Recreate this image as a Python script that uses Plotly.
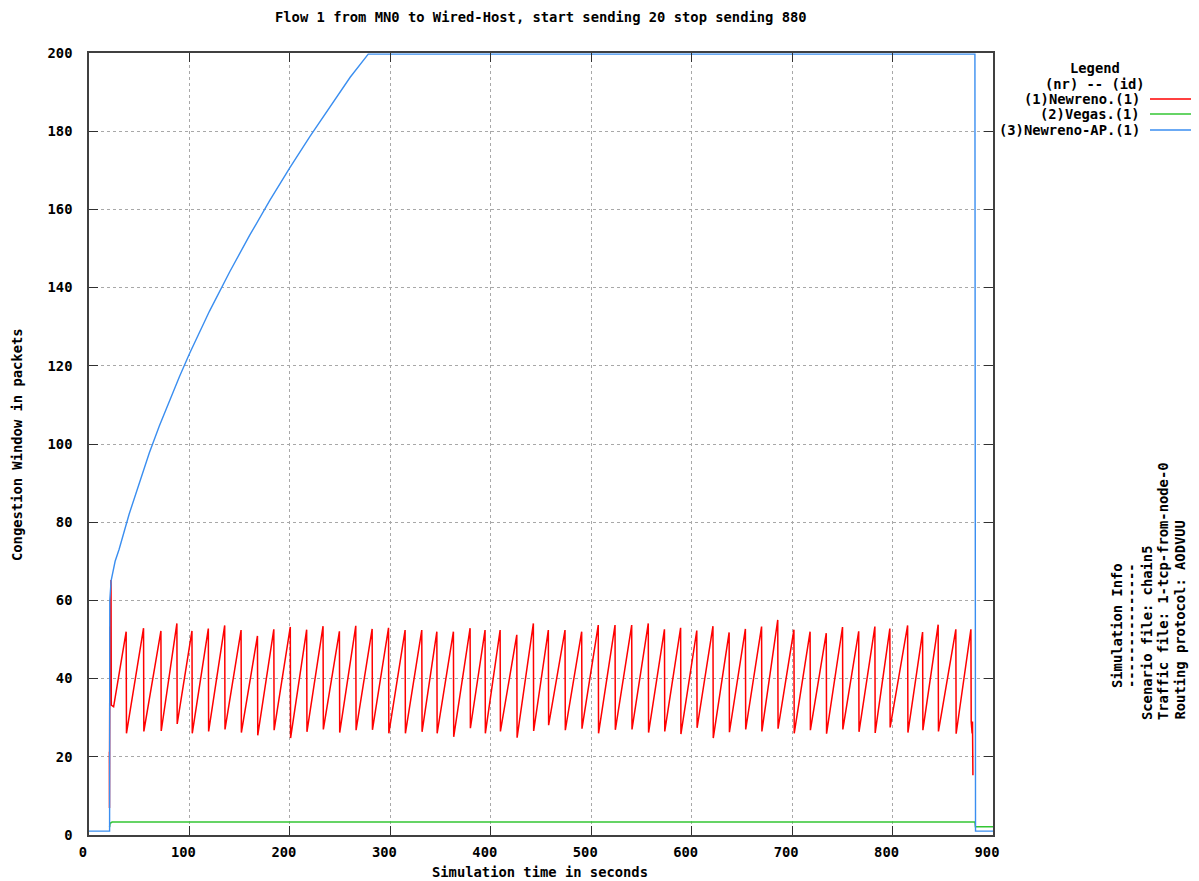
import plotly.graph_objects as go

# ---------------- data ----------------
title_text = "Flow 1 from MN0 to Wired-Host, start sending 20 stop sending 880"
x_ticks = [0, 100, 200, 300, 400, 500, 600, 700, 800, 900]
y_ticks = [0, 20, 40, 60, 80, 100, 120, 140, 160, 180, 200]

# (1) Newreno - red sawtooth
red_start_t = [20.3, 20.4, 20.8, 21.0, 21.9, 22.2, 24.5]
red_start_v = [21.3, 6.9, 53.3, 38.4, 65.2, 33.2, 32.8]
peak_t = [37.0, 54.3, 71.6, 87.5, 102.5, 118.8, 135.1, 151.4, 167.7, 184.0,
          200.4, 216.7, 233.0, 249.3, 265.6, 281.9, 298.2, 314.7, 331.3, 346.3,
          362.8, 379.4, 394.3, 409.3, 425.9, 442.4, 457.3, 473.9, 490.5, 507.0,
          523.7, 540.3, 556.8, 572.9, 589.0, 605.1, 621.2, 637.3, 653.5, 669.6,
          685.7, 701.8, 717.9, 734.0, 750.2, 766.3, 782.4, 797.3, 815.0, 829.9,
          845.4, 863.0, 878.0]
peak_v = [52.0, 52.9, 52.2, 54.1, 52.2, 52.8, 53.6, 52.4, 50.9, 52.6,
          53.2, 52.5, 53.4, 52.1, 53.5, 52.7, 53.0, 52.4, 52.4, 52.0,
          52.0, 52.9, 52.4, 52.4, 51.2, 54.1, 52.4, 52.4, 52.0, 53.7,
          53.7, 53.7, 54.1, 52.6, 53.0, 52.3, 53.4, 51.8, 52.7, 53.3,
          55.0, 52.5, 52.0, 51.6, 53.2, 52.1, 53.3, 52.8, 53.6, 51.9,
          53.8, 52.6, 52.6]
trough_v = [26.0, 26.5, 26.6, 28.4, 26.0, 26.5, 27.0, 26.2, 25.5, 26.8,
            24.8, 26.4, 27.0, 26.2, 26.8, 26.9, 26.0, 26.0, 26.4, 26.0,
            25.1, 27.3, 26.0, 26.5, 24.9, 26.6, 28.1, 26.8, 27.2, 26.0,
            26.9, 27.0, 26.2, 26.5, 25.8, 27.4, 24.8, 26.3, 27.0, 26.5,
            27.2, 26.0, 26.8, 25.9, 27.0, 26.4, 26.1, 27.5, 26.2, 26.8,
            26.5, 25.9, 29.0]
red_end_t = [879.2, 879.6, 880.0]
red_end_v = [26.0, 29.0, 15.3]

# (2) Vegas - green
green_t = [20.5, 21.0, 23.0, 882.0, 882.5, 900.0]
green_v = [2.0, 3.0, 3.3, 3.3, 2.1, 2.1]

# (3) Newreno-AP - blue
blue_t = [0, 20.5, 20.7, 22, 26, 30, 40, 50, 60, 70, 80, 90, 100, 120, 140,
          160, 180, 200, 220, 240, 260, 278, 882.0, 882.3, 882.6, 900]
blue_v = [1.0, 1.0, 60.0, 65.0, 70.0, 73.1, 82.1, 90.2, 97.7, 104.6, 111.1,
          117.2, 123.1, 134.0, 144.0, 153.4, 162.3, 170.7, 178.7, 186.4, 193.8,
          199.7, 199.7, 100.0, 1.0, 1.0]

legend_names = ["(1)Newreno.(1)", "(2)Vegas.(1)", "(3)Newreno-AP.(1)"]
colors = ["#ff0000", "#33c633", "#3a8ef0"]
sim_info = ["Simulation Info", "---------------", "Scenario file: chain5",
            "Traffic file: 1-tcp-from-node-0", "Routing protocol: AODVUU"]

# ---------------- build red series ----------------
red_x = list(red_start_t)
red_y = list(red_start_v)
for t, p, tr in zip(peak_t, peak_v, trough_v):
    red_x += [t, t + 0.3]
    red_y += [p, tr]
red_x += red_end_t
red_y += red_end_v

FONT = "DejaVu Sans Mono"
FS = 13.8
fnt = dict(family=FONT, size=FS, color="black", weight="bold")

fig = go.Figure()
fig.add_trace(go.Scatter(x=red_x, y=red_y, mode="lines",
                         line=dict(color=colors[0], width=1.5), showlegend=False))
fig.add_trace(go.Scatter(x=green_t, y=green_v, mode="lines",
                         line=dict(color=colors[1], width=1.5), showlegend=False))
fig.add_trace(go.Scatter(x=blue_t, y=blue_v, mode="lines",
                         line=dict(color=colors[2], width=1.4), showlegend=False))

axis_common = dict(showline=True, linecolor="#404040", linewidth=1.5, mirror="ticks",
                   ticks="inside", ticklen=9, tickcolor="#303030", tickwidth=1.2,
                   showgrid=True, gridcolor="#a8a8a8", griddash="dot", gridwidth=1,
                   zeroline=False, tickfont=fnt)

fig.update_xaxes(range=[0, 900], tickvals=x_ticks, ticktext=[str(v) for v in x_ticks],
                 ticklabelshift=-6, ticklabelstandoff=4, **axis_common)
fig.update_yaxes(range=[0, 200], tickvals=y_ticks, ticktext=[str(v) for v in y_ticks],
                 ticklabelstandoff=12, **axis_common)

# page body has an 8px margin: compensate so the frame lands on reference pixels
OFF = 8
W, H = 1199 - OFF, 881 - OFF
FL, FR, FT, FB = 89, 993, 53, 835          # frame in window pixels
L, R, T, B = FL - OFF, W - (FR - OFF), FT - OFF, H - (FB - OFF)
pw, ph = FR - FL, FB - FT

def px(x):
    return (x - FL) / pw

def py(y):
    return (FB - y) / ph

ann = []
ann.append(dict(text=title_text, x=px(541), y=py(17), xref="paper", yref="paper",
                showarrow=False, xanchor="center", yanchor="middle", font=fnt))
ann.append(dict(text="Simulation time in seconds", x=px(540), y=py(872), xref="paper", yref="paper",
                showarrow=False, xanchor="center", yanchor="middle", font=fnt))
ann.append(dict(text="Congestion Window in packets", x=px(17), y=py(445), xref="paper", yref="paper",
                showarrow=False, xanchor="center", yanchor="middle", textangle=-90, font=fnt))
ann.append(dict(text="Legend", x=px(1095), y=py(68), xref="paper", yref="paper",
                showarrow=False, xanchor="center", yanchor="middle", font=fnt))
ann.append(dict(text="(nr) -- (id)", x=px(1095), y=py(84), xref="paper", yref="paper",
                showarrow=False, xanchor="center", yanchor="middle", font=fnt))
shapes = []
for i, (name, col) in enumerate(zip(legend_names, colors)):
    yy = [99, 114, 130][i]
    ann.append(dict(text=name, x=px(1142), y=py(yy), xref="paper", yref="paper",
                    showarrow=False, xanchor="right", yanchor="middle", font=fnt))
    shapes.append(dict(type="line", xref="paper", yref="paper", x0=px(1150), x1=px(1193),
                       y0=py(yy), y1=py(yy), line=dict(color=col, width=1.4)))

sim_x = [1117, 1131, 1147, 1163, 1179]
for i, line in enumerate(sim_info):
    if i < 2:
        ann.append(dict(text=line, x=px(sim_x[i]), y=py(626), xref="paper", yref="paper",
                        showarrow=False, xanchor="center", yanchor="middle", textangle=-90, font=fnt))
    else:
        ann.append(dict(text=line, x=px(sim_x[i]), y=py(722), xref="paper", yref="paper",
                        showarrow=False, xanchor="center", yanchor="bottom", textangle=-90, font=fnt))

fig.update_layout(
    width=W, height=H,
    margin=dict(l=L, r=R, t=T, b=B, autoexpand=False),
    paper_bgcolor="white", plot_bgcolor="white",
    annotations=ann, shapes=shapes, showlegend=False,
    font=dict(family=FONT, size=FS, color="black"),
)

fig.write_html("out.html")
